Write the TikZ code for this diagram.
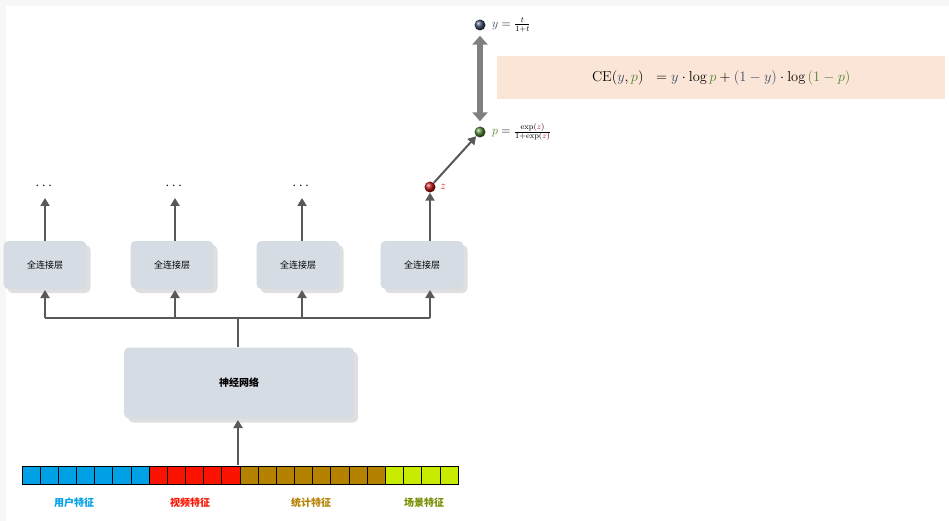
\documentclass[tikz,border=0pt]{standalone}
\usepackage{fontspec}
\usepackage{amsmath}
\newfontfamily\cjk{Noto Sans CJK SC}
\usetikzlibrary{positioning, arrows.meta, shadows, calc}

\definecolor{boxgray}{RGB}{214,220,228}
\definecolor{userblue}{RGB}{0,160,230}
\definecolor{videored}{RGB}{250,20,0}
\definecolor{statbrown}{RGB}{180,130,0}
\definecolor{scenegreen}{RGB}{200,235,0}
\definecolor{peach}{RGB}{251,229,214}
\definecolor{ynavy}{RGB}{60,75,105}
\definecolor{pgreen}{RGB}{80,130,50}
\definecolor{zred}{RGB}{190,20,20}

\begin{document}
\begin{tikzpicture}[x=1pt, y=-1pt,
        layer/.style={rounded corners=5pt, fill=boxgray, minimum width=83pt, minimum height=48pt,
            font=\cjk\small, drop shadow={shadow xshift=4pt, shadow yshift=-4pt, opacity=0.25}},
        arrow/.style={-{Triangle[length=8pt, width=9pt]}, line width=2pt, draw=black!65},
        ball/.style={circle, inner sep=0pt, minimum size=11pt, shading=ball},
        cell/.style={draw, line width=0.8pt, minimum width=18.17pt, minimum height=18pt, inner sep=0pt, outer sep=0pt}
    ]
    \useasboundingbox (0,0) rectangle (949,521);
    \fill[black!3] (0,0) rectangle (949,521);
    \fill[white] (6,6) rectangle (949,521);

    % fully connected layers
    \foreach \x/\n in {45/a, 172/b, 298/c, 422/d}
        \node[layer] (fc\n) at (\x,265) {全连接层};
    \foreach \n/\x in {a/45, b/175, c/302}
        \node[font=\Large] (dots\n) at (\x,186) {$\cdots$};

    % neural network
    \node[layer, minimum width=230pt, minimum height=71pt, font=\cjk\bfseries] (nn) at (239,383) {神经网络};

    % feature cells
    \foreach \i in {0,...,23}{
        \pgfmathsetmacro\cx{22+18.17*\i+9.08}
        \ifnum\i<7 \def\cc{userblue}\else\ifnum\i<12 \def\cc{videored}\else\ifnum\i<20 \def\cc{statbrown}\else\def\cc{scenegreen}\fi\fi\fi
        \node[cell, fill=\cc] (cell\i) at (\cx,475) {};
    }
    \node[font=\cjk\bfseries, text=userblue] (fuser) at (74,503) {用户特征};
    \node[font=\cjk\bfseries, text=videored] (fvideo) at (190,503) {视频特征};
    \node[font=\cjk\bfseries, text=statbrown] (fstat) at (311,503) {统计特征};
    \node[font=\cjk\bfseries, text=scenegreen!60!black] (fscene) at (424,503) {场景特征};

    % balls
    \node[ball, ball color=zred] (z) at (430,187) {};
    \node[right=1pt of z, text=zred, font=\large] (zlab) {$z$};
    \node[ball, ball color=pgreen] (p) at (480,132) {};
    \node[ball, ball color=ynavy] (y) at (480,25) {};
    \node[right=3pt of y, anchor=west, font=\large] (ylab) {$\textcolor{ynavy}{y}=\frac{t}{1+t}$};
    \node[right=3pt of p, anchor=west, font=\large] (plab) {$\textcolor{pgreen}{p}=\frac{\exp(\textcolor{zred}{z})}{1+\exp(\textcolor{zred}{z})}$};
    \node[fill=peach, anchor=west, minimum width=448pt, minimum height=43pt, font=\Large, inner sep=2pt] (ce) at (497,78)
        {$\mathrm{CE}(\textcolor{ynavy}{y},\textcolor{pgreen}{p})\;\ =\textcolor{ynavy}{y}\cdot\log\textcolor{pgreen}{p}+\textcolor{ynavy}{(1-y)}\cdot\log\textcolor{pgreen}{(1-p)}$};

    % connections
    \coordinate (bus) at (238,318);
    \draw[arrow] (238,465) -- (238,420);
    \draw[line width=2pt, draw=black!65] (238,347) -- (bus);
    \draw[line width=2pt, draw=black!65] (45,318) -- (430,318);
    \foreach \x in {45, 175, 302, 430}
        \draw[arrow] (\x,318) -- (\x,290);
    \foreach \x in {45, 175, 302}
        \draw[arrow] (\x,241) -- (\x,198);
    \draw[arrow] (430,241) -- (z);
    \draw[arrow] (z) -- (p);
    \draw[{Triangle[length=9pt, width=15pt]}-{Triangle[length=9pt, width=15pt]}, line width=6pt, draw=black!50] ($(y.south)+(0,5)$) -- ($(p.north)+(0,-5)$);
\end{tikzpicture}
\end{document}
